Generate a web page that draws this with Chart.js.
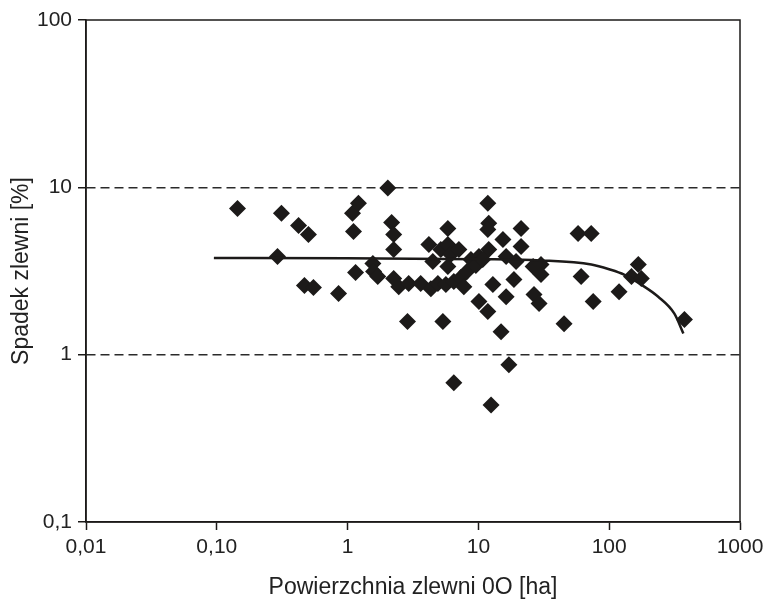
<!DOCTYPE html>
<html>
<head>
<meta charset="utf-8">
<script src="https://cdn.jsdelivr.net/npm/chart.js@4"></script>
<style>
  html, body { margin: 0; padding: 0; background: #fff; }
  #wrap { width: 763px; height: 605px; }
</style>
</head>
<body>
<div id="wrap"><canvas id="chart" width="763" height="605"></canvas></div>
<script>
// catchment area [ha] and slope [%] of each catchment
const areaHa = [
  0.144, 0.312, 0.291, 0.422, 0.502, 0.468, 0.548, 0.853, 1.09, 1.21,
  1.11, 1.15, 2.03, 2.17, 2.25, 2.25, 1.56, 1.58, 1.70, 2.25,
  2.46, 2.93, 2.87, 3.62, 4.33, 4.90, 5.64, 6.49, 5.84, 4.48,
  5.84, 4.18, 5.16, 5.84, 6.15, 7.09, 5.35, 6.49, 8.77, 10.1,
  11.8, 12.0, 11.8, 15.4, 21.2, 21.2, 12.0, 16.3, 12.9, 18.7,
  16.3, 10.1, 11.8, 14.9, 12.5, 17.1, 26.6, 29.1, 26.2, 30.1,
  30.1, 57.8, 72.8, 61.0, 75.4, 45.2, 119, 167, 148, 176,
  376, 7.34, 8.17, 9.57, 10.8, 7.74, 19.4
];
const slopePct = [
  7.48, 6.99, 3.86, 5.92, 5.23, 2.59, 2.52, 2.32, 6.99, 8.02,
  5.45, 3.10, 9.9, 6.17, 5.23, 4.25, 3.51, 3.14, 2.93, 2.85,
  2.55, 2.66, 1.58, 2.66, 2.48, 2.66, 2.63, 2.74, 3.37, 3.61,
  5.68, 4.56, 4.25, 4.56, 3.97, 4.25, 1.58, 0.68, 3.71, 3.86,
  8.02, 6.09, 5.60, 4.88, 5.68, 4.43, 4.25, 3.86, 2.63, 2.81,
  2.22, 2.08, 1.81, 1.37, 0.50, 0.87, 2.29, 2.02, 3.37, 3.46,
  3.01, 5.30, 5.30, 2.93, 2.08, 1.53, 2.38, 3.46, 2.93, 2.85,
  1.62, 2.89, 3.14, 3.41, 3.71, 2.55, 3.61
];

// fitted curve
const trendArea = [0.095, 1, 10, 30, 73, 100, 130, 176, 237, 315, 369];
const trendSlope = [3.78, 3.77, 3.72, 3.66, 3.46, 3.24, 3.01, 2.62, 2.22, 1.76, 1.34];

const xTickValues = [0.01, 0.1, 1, 10, 100, 1000];
const xTickLabels = ['0,01', '0,10', '1', '10', '100', '1000'];
const yTickValues = [0.1, 1, 10, 100];
const yTickLabels = ['0,1', '1', '10', '100'];

const INK = '#1c1a19';
const FONT = "'Liberation Sans', Arial, sans-serif";

// box round the plot area
const frame = {
  id: 'frame',
  afterDraw(chart) {
    const a = chart.chartArea;
    const ctx = chart.ctx;
    ctx.save();
    ctx.strokeStyle = INK;
    ctx.lineWidth = 1.5;
    ctx.strokeRect(a.left, a.top, a.right - a.left, a.bottom - a.top);
    ctx.restore();
  }
};

new Chart(document.getElementById('chart').getContext('2d'), {
  type: 'scatter',
  data: {
    datasets: [
      {
        label: 'Zlewnie',
        data: areaHa.map((x, i) => ({ x: x, y: slopePct[i] })),
        pointStyle: 'rectRot',
        pointRadius: 8.5,
        pointHoverRadius: 8.5,
        backgroundColor: INK,
        borderColor: INK,
        borderWidth: 0,
        order: 2
      },
      {
        label: 'Trend',
        type: 'line',
        data: trendArea.map((x, i) => ({ x: x, y: trendSlope[i] })),
        borderColor: INK,
        borderWidth: 2.5,
        pointRadius: 0,
        cubicInterpolationMode: 'monotone',
        fill: false,
        order: 1
      }
    ]
  },
  options: {
    responsive: false,
    animation: false,
    layout: { padding: { top: 20, right: 23, left: 0, bottom: 0 } },
    plugins: {
      legend: { display: false },
      tooltip: { enabled: false }
    },
    scales: {
      x: {
        type: 'logarithmic',
        min: 0.01,
        max: 1000,
        afterBuildTicks: (s) => { s.ticks = xTickValues.map(v => ({ value: v })); },
        afterFit: (s) => { s.height = 83; s.paddingRight = 0; s.paddingLeft = 0; },
        ticks: {
          color: '#222',
          font: { family: FONT, size: 21 },
          padding: 5,
          maxRotation: 0,
          autoSkip: false,
          callback: (v, i) => xTickLabels[i]
        },
        grid: {
          drawOnChartArea: false,
          drawTicks: true,
          tickLength: 8,
          tickColor: INK,
          tickWidth: 1.5
        },
        border: { color: INK, width: 1.5 },
        title: {
          display: true,
          text: 'Powierzchnia zlewni 0O [ha]',
          color: '#222',
          font: { family: FONT, size: 23 },
          padding: { top: 4, bottom: 4 }
        }
      },
      y: {
        type: 'logarithmic',
        min: 0.1,
        max: 100,
        afterBuildTicks: (s) => { s.ticks = yTickValues.map(v => ({ value: v })); },
        afterFit: (s) => { s.width = 86; },
        ticks: {
          color: '#222',
          font: { family: FONT, size: 21 },
          padding: 6,
          autoSkip: false,
          callback: (v, i) => yTickLabels[i]
        },
        grid: {
          color: (c) => (c.tick && (c.tick.value === 1 || c.tick.value === 10)) ? '#2a2a2a' : 'rgba(0,0,0,0)',
          lineWidth: 1.5,
          drawTicks: true,
          tickLength: 8,
          tickColor: INK,
          tickWidth: 1.5
        },
        border: { color: INK, width: 1.5, dash: [9, 5] },
        title: {
          display: true,
          text: 'Spadek zlewni [%]',
          color: '#222',
          font: { family: FONT, size: 23 },
          padding: { top: 8, bottom: 4 }
        }
      }
    }
  },
  plugins: [frame]
});
</script>
</body>
</html>
